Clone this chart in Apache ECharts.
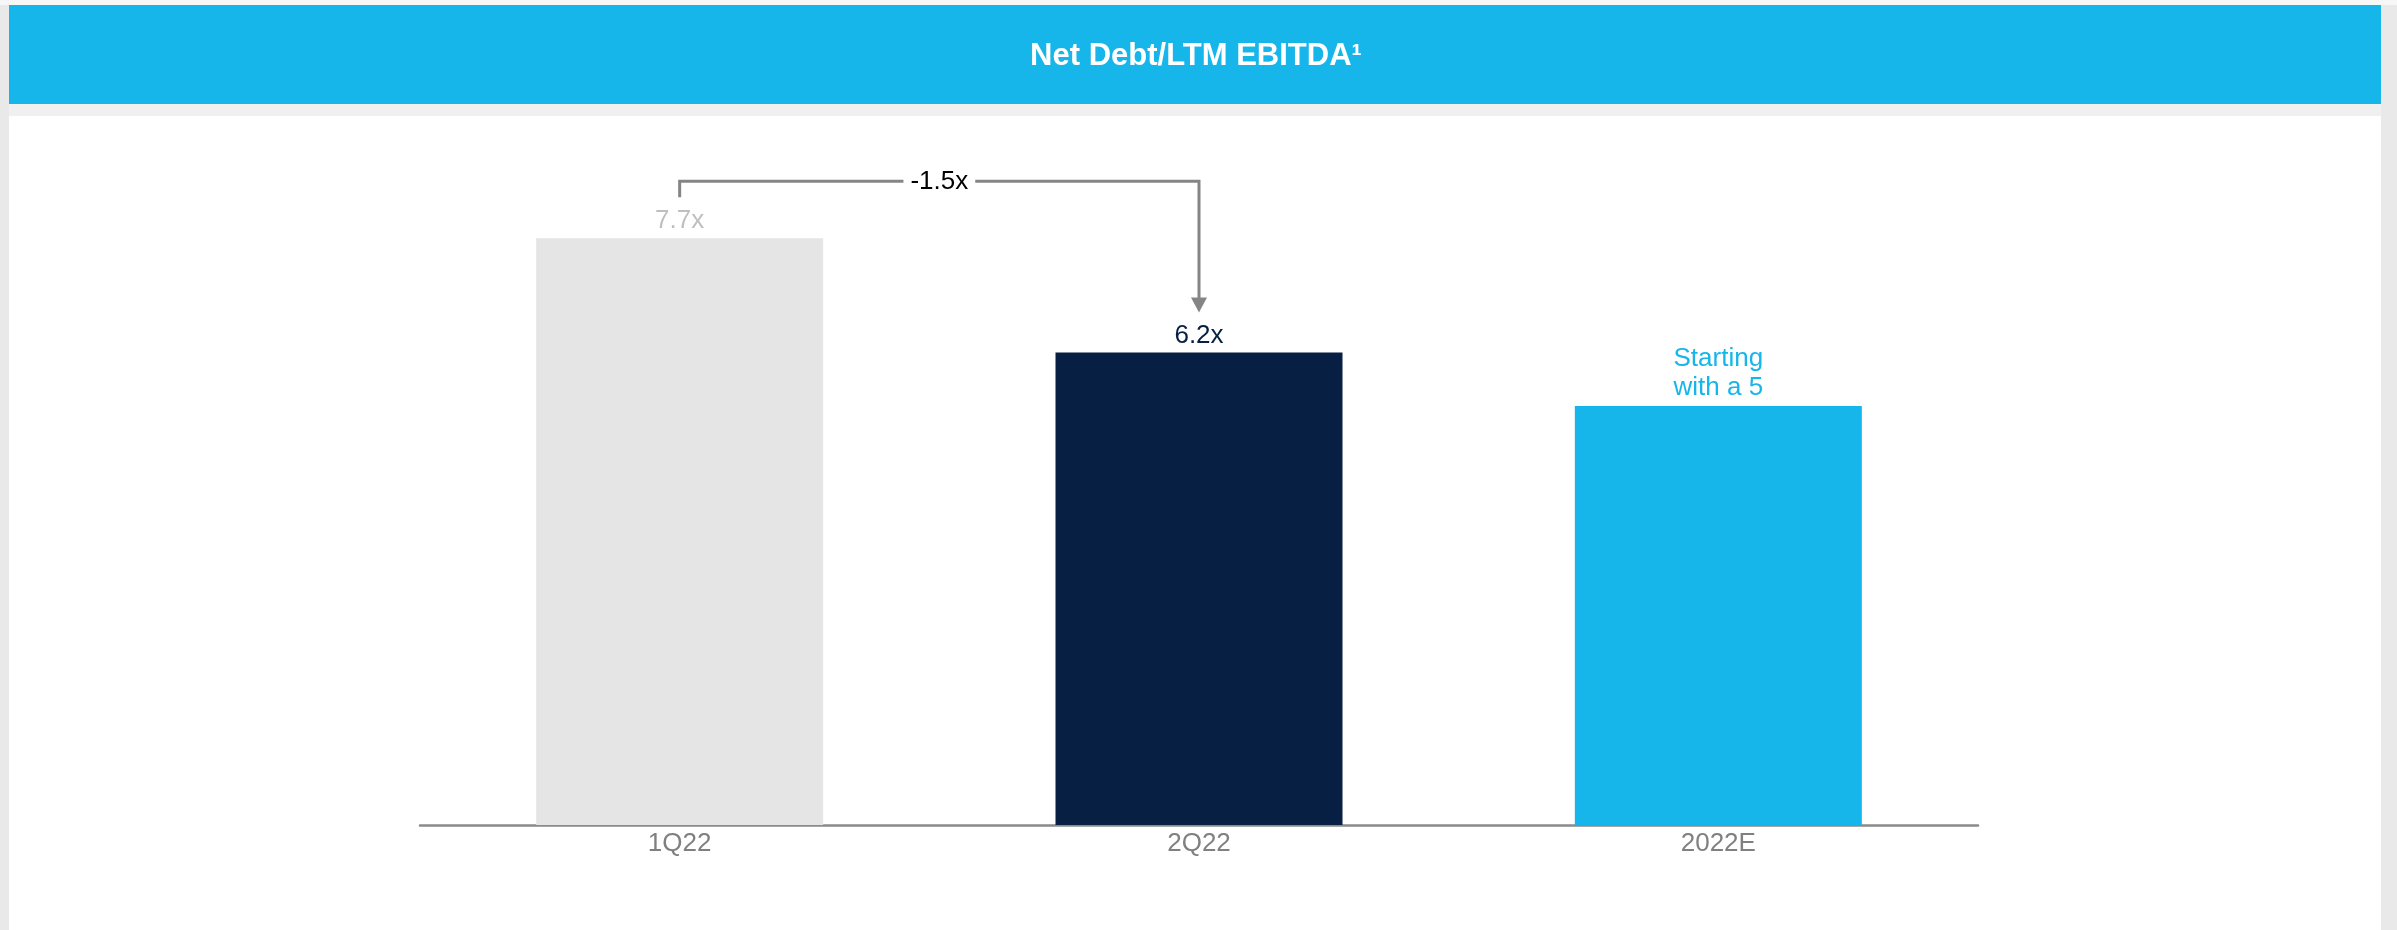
<!DOCTYPE html>
<html>
<head>
<meta charset="utf-8">
<title>Net Debt/LTM EBITDA</title>
<script src="https://cdn.jsdelivr.net/npm/echarts@6/dist/echarts.min.js"></script>
<style>
  html, body { margin: 0; padding: 0; background: #e9e9e9; }
  #chart { width: 2397px; height: 930px; }
</style>
</head>
<body>
<div id="chart"></div>
<script>
// Leverage ratio by period
const categories = ['1Q22', '2Q22', '2022E'];
const leverage = [7.7, 6.2, 5.5];
const barLabels = ['7.7x', '6.2x', 'Starting\nwith a 5'];
const titleText = 'Net Debt/LTM EBITDA\u00b9';

const FONT = '"Liberation Sans", Arial, sans-serif';
const barColors = ['#e5e5e5', '#061f42', '#16b5ea'];
const labelColors = ['#bfbfbf', '#061f42', '#16b5ea'];

const chart = echarts.init(document.getElementById('chart'), null, { renderer: 'canvas' });

const backdrop = [
  // page frame
  { type: 'rect', shape: { x: 0, y: 0, width: 2397, height: 5 }, style: { fill: '#f7f7f7' }, z: -10, silent: true },
  { type: 'rect', shape: { x: 9, y: 104, width: 2372, height: 12 }, style: { fill: '#f0f0f0' }, z: -10, silent: true },
  { type: 'rect', shape: { x: 9, y: 116, width: 2372, height: 814 }, style: { fill: '#ffffff' }, z: -10, silent: true },
  // header band
  { type: 'rect', shape: { x: 9, y: 5, width: 2372, height: 99 }, style: { fill: '#16b5ea' }, z: -5, silent: true },
  {
    type: 'text', x: 1196, y: 56, z: 10, silent: true,
    style: {
      text: titleText, fill: '#ffffff', font: 'bold 31px ' + FONT,
      align: 'center', verticalAlign: 'middle'
    }
  }
];

chart.setOption({
  animation: false,
  backgroundColor: 'transparent',
  grid: { left: 420, right: 419, top: 63, bottom: 105, containLabel: false },
  xAxis: {
    type: 'category',
    data: categories,
    axisLine: { show: true, lineStyle: { color: '#8a8a8a', width: 2.5 } },
    axisTick: { show: false },
    axisLabel: { color: '#808080', fontFamily: FONT, fontSize: 26, margin: 6 }
  },
  yAxis: {
    type: 'value', min: 0, max: 10, interval: 2,
    show: false, splitLine: { show: false }
  },
  series: [{
    type: 'bar',
    barWidth: 287,
    data: leverage.map((v, i) => ({
      value: v,
      itemStyle: { color: barColors[i] },
      label: {
        show: true, position: 'top', distance: 4,
        formatter: barLabels[i], color: labelColors[i],
        fontFamily: FONT, fontSize: 26, lineHeight: i === 2 ? 29 : 26
      }
    }))
  }],
  graphic: backdrop
});

// Change bracket between the first two periods
function drawBracket() {
  const p1 = chart.convertToPixel({ gridIndex: 0 }, [0, leverage[0]]);
  const p2 = chart.convertToPixel({ gridIndex: 0 }, [1, leverage[1]]);
  const x1 = p1[0], x2 = p2[0];
  const yLine = p1[1] - 57;
  const legEnd = p1[1] - 41;
  const tip = p2[1] - 40;
  const head = 15;
  const delta = (leverage[1] - leverage[0]).toFixed(1) + 'x';
  const grey = '#858585';

  chart.setOption({
    graphic: backdrop.concat([
      {
        type: 'polyline', z: 20, silent: true,
        shape: { points: [[x1, legEnd], [x1, yLine], [x2, yLine], [x2, tip - head + 1]] },
        style: { stroke: grey, lineWidth: 3, fill: null }
      },
      {
        type: 'polygon', z: 20, silent: true,
        shape: { points: [[x2 - 8, tip - head], [x2 + 8, tip - head], [x2, tip]] },
        style: { fill: grey }
      },
      {
        type: 'text', z: 21, silent: true,
        x: (x1 + x2) / 2, y: yLine + 1,
        style: {
          text: delta, fill: '#000000', font: '26px ' + FONT,
          align: 'center', verticalAlign: 'middle',
          backgroundColor: '#ffffff', padding: [2, 7]
        }
      }
    ])
  }, { replaceMerge: ['graphic'] });
}
drawBracket();
</script>
</body>
</html>
